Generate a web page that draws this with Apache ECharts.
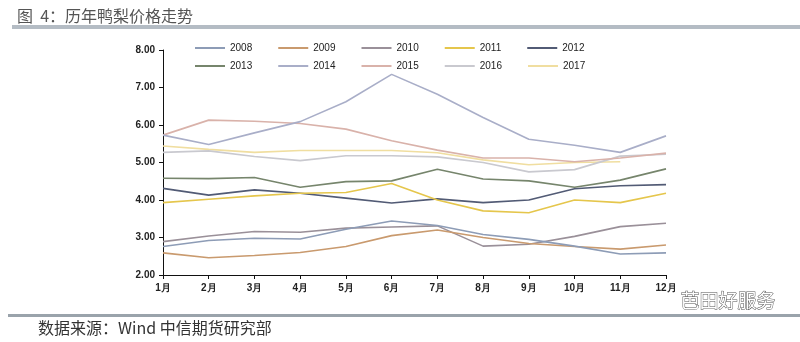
<!DOCTYPE html>
<html>
<head>
<meta charset="utf-8">
<script src="https://cdn.jsdelivr.net/npm/echarts@6/dist/echarts.min.js"></script>
<style>
html,body{margin:0;padding:0;background:#fff;}
#c{width:800px;height:342px;}
</style>
</head>
<body>
<div id="c"></div>
<script>
const months = ['1月','2月','3月','4月','5月','6月','7月','8月','9月','10月','11月','12月'];
const years = ['2008','2009','2010','2011','2012','2013','2014','2015','2016','2017'];
const s2008 = [2.76,2.92,2.98,2.96,3.22,3.44,3.32,3.08,2.95,2.77,2.56,2.59];
const s2009 = [2.59,2.46,2.52,2.60,2.76,3.05,3.20,3.00,2.84,2.76,2.69,2.80];
const s2010 = [2.89,3.04,3.16,3.14,3.25,3.28,3.31,2.77,2.82,3.03,3.29,3.38];
const s2011 = [3.93,4.02,4.11,4.18,4.20,4.44,4.00,3.71,3.66,4.00,3.93,4.18];
const s2012 = [4.31,4.13,4.27,4.18,4.05,3.92,4.03,3.93,4.00,4.30,4.38,4.41];
const s2013 = [4.58,4.57,4.60,4.34,4.49,4.51,4.82,4.56,4.51,4.34,4.53,4.83];
const s2014 = [5.73,5.48,5.79,6.09,6.62,7.35,6.82,6.20,5.62,5.46,5.27,5.71];
const s2015 = [5.73,6.13,6.10,6.04,5.89,5.58,5.33,5.12,5.12,5.02,5.12,5.25];
const s2016 = [5.27,5.31,5.16,5.05,5.18,5.18,5.15,5.00,4.75,4.81,5.17,5.22];
const s2017 = [5.44,5.35,5.27,5.32,5.32,5.32,5.26,5.07,4.94,5.00,5.02];
const yTicks = [2,3,4,5,6,7,8];

const seriesData = [s2008,s2009,s2010,s2011,s2012,s2013,s2014,s2015,s2016,s2017];
const colors = ['#8d9cb6','#c99a6e','#9a9099','#e5c64c','#525b75','#76856c','#a9aec8','#d9b2aa','#c9c9cf','#f0dea0'];

const chart = echarts.init(document.getElementById('c'), null, {renderer:'canvas'});
const lbl = {fontFamily:'Liberation Sans, Arial, sans-serif', fontSize:10, color:'#222', fontWeight:'bold'};

chart.setOption({
  backgroundColor:'#fff',
  animation:false,
  color: colors,
  title:[{text:'图  4：历年鸭梨价格走势', left:12, top:3, textStyle:{fontFamily:'Noto Sans CJK SC', fontSize:16, fontWeight:'normal', color:'#555'}}],
  graphic:[
    {type:'rect', shape:{x:12,y:25,width:788,height:4}, style:{fill:'#b4bcc4'}},
    {type:'rect', shape:{x:8,y:314,width:792,height:3}, style:{fill:'#9aa3ab'}},
    {type:'text', left:38, top:320, style:{text:'数据来源：Wind 中信期货研究部', font:'16px "Noto Sans CJK SC"', fill:'#333'}},
    {type:'text', left:680, top:291, style:{text:'芭田好服务', font:'19px "Noto Sans CJK SC"', fill:'#fff', stroke:'#555', lineWidth:1}}
  ],
  legend:[
    {data:years.slice(0,5), top:38, left:190, itemWidth:30, itemHeight:2, itemGap:26, icon:'rect',
     textStyle:{fontFamily:'Liberation Sans, Arial', fontSize:10, color:'#222'}},
    {data:years.slice(5), top:56, left:190, itemWidth:30, itemHeight:2, itemGap:26, icon:'rect',
     textStyle:{fontFamily:'Liberation Sans, Arial', fontSize:10, color:'#222'}}
  ],
  grid:{left:163, right:134, top:50, bottom:67, containLabel:false},
  xAxis:{type:'category', data:months, boundaryGap:false,
    axisLine:{lineStyle:{color:'#111', width:1}},
    axisTick:{show:true, length:4, lineStyle:{color:'#111'}},
    axisLabel:Object.assign({margin:8}, lbl),
    splitLine:{show:false}},
  yAxis:{type:'value', min:yTicks[0], max:yTicks[yTicks.length-1], interval:1,
    axisLine:{show:true, lineStyle:{color:'#111', width:1}},
    axisTick:{show:true, length:4, lineStyle:{color:'#111'}},
    axisLabel:Object.assign({margin:8, formatter:v=>v.toFixed(2)}, lbl),
    splitLine:{show:false}},
  series: years.map((y,i)=>({name:y, type:'line', data:seriesData[i], symbol:'none',
    lineStyle:{width:1.6, color:colors[i]}, itemStyle:{color:colors[i]}, z: 10-i}))
});
</script>
</body>
</html>
